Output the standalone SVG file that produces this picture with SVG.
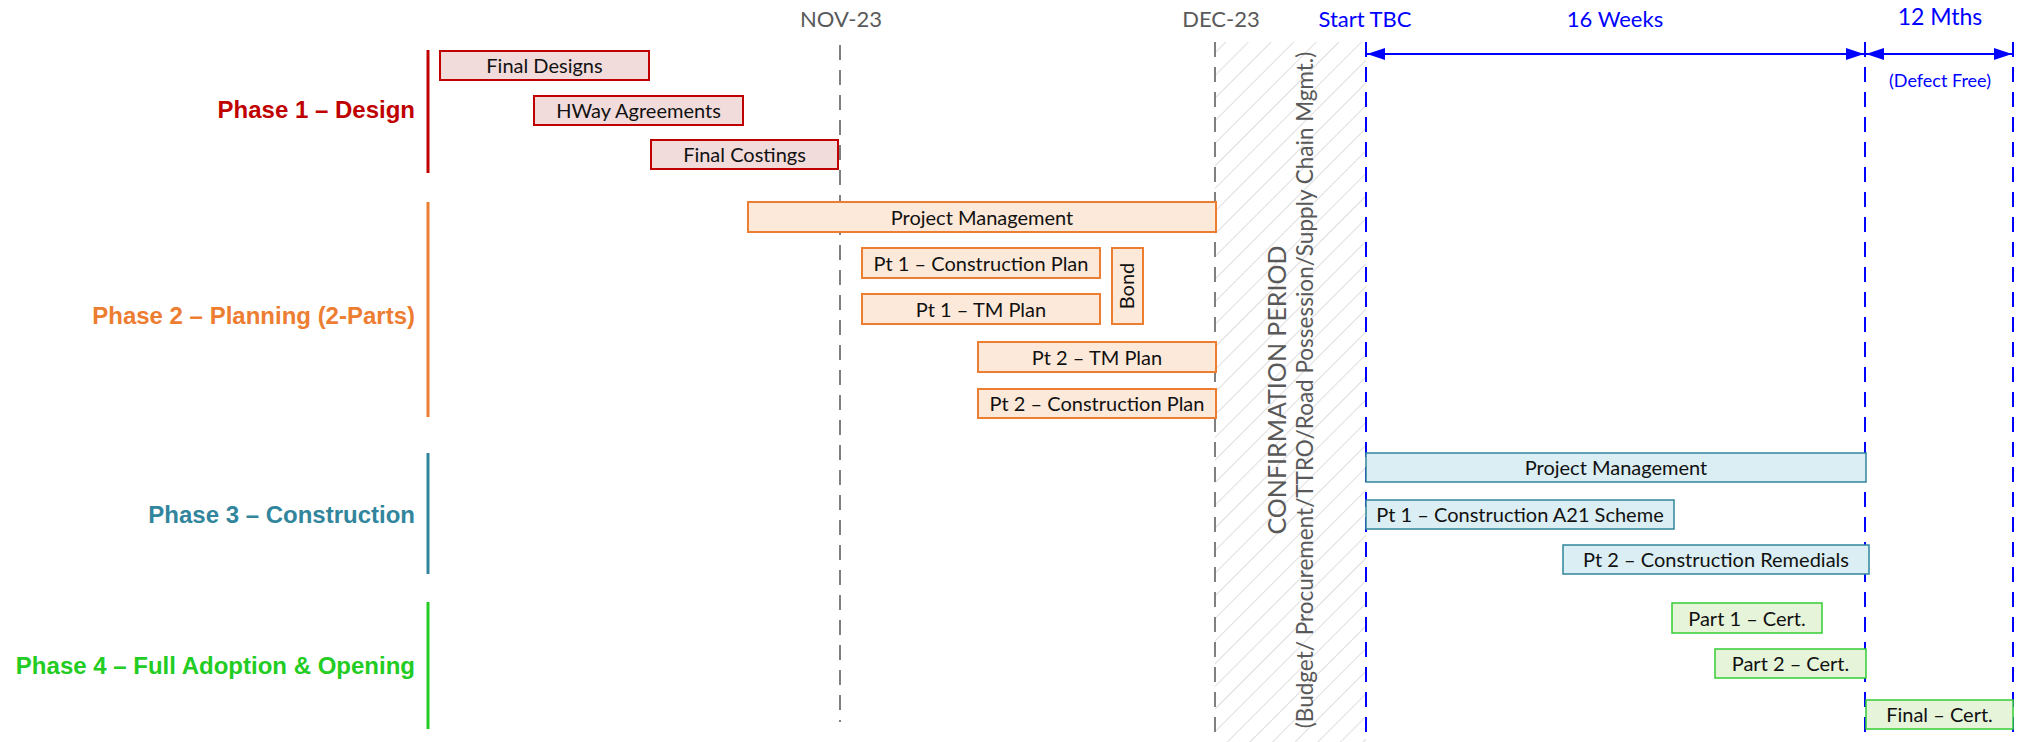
<svg xmlns="http://www.w3.org/2000/svg" width="2022" height="742" viewBox="0 0 2022 742">
<style>
.bt{font-family:Lato,"Open Sans","Liberation Sans",sans-serif;font-size:20px;fill:#111;text-anchor:middle}
.ph{font-family:"Liberation Sans",Arial,sans-serif;font-weight:bold;font-size:24px;text-anchor:end}
.tl{font-family:Lato,"Open Sans","Liberation Sans",sans-serif;font-size:22px;text-anchor:middle}
.r rect{fill:#F2DCDB;stroke:#C00000;stroke-width:2}
.o rect{fill:#FDE9D9;stroke:#ED7D31;stroke-width:2}
.t rect{fill:#DAEEF3;stroke:#31859C;stroke-width:1.5}
.g rect{fill:#E6F5DA;stroke:#33CC33;stroke-width:1.5}
.gd{stroke:#7F7F7F;stroke-width:2;stroke-dasharray:15 10;fill:none}
.bd{stroke:#0000FF;stroke-width:2;stroke-dasharray:15 10;fill:none}
</style>
<defs>
<pattern id="hatch" width="16" height="16" patternUnits="userSpaceOnUse" patternTransform="rotate(45)">
<line x1="0" y1="0" x2="0" y2="16" stroke="#C8C8C8" stroke-width="1.2"/>
</pattern>
<marker id="ah" markerWidth="18" markerHeight="12" refX="18" refY="6" orient="auto-start-reverse" markerUnits="userSpaceOnUse">
<path d="M0,0 L18,6 L0,12 z" fill="#0000FF"/>
</marker>
</defs>
<rect width="2022" height="742" fill="#FFFFFF"/>

<g id="timeline">
<rect x="1215" y="42" width="151" height="700" fill="url(#hatch)"/>
<text class="tl" x="841" y="27" fill="#595959">NOV-23</text>
<text class="tl" x="1221" y="27" fill="#595959">DEC-23</text>
<text class="tl" x="1365" y="27" fill="#0000FF">Start TBC</text>
<text class="tl" x="1615" y="27" fill="#0000FF">16 Weeks</text>
<text class="tl" x="1940" y="25" fill="#0000FF" style="font-size:23px">12 Mths</text>
<text class="tl" x="1940" y="87" fill="#0000FF" style="font-size:18px">(Defect Free)</text>
<g font-family="Lato,'Open Sans','Liberation Sans',sans-serif" fill="#595959" text-anchor="middle">
<text transform="translate(1286,390) rotate(-90)" font-size="25">CONFIRMATION PERIOD</text>
<text transform="translate(1313,390) rotate(-90)" font-size="22.5">(Budget/ Procurement/TTRO/Road Possession/Supply Chain Mgmt.)</text>
</g>
</g>

<g id="connectors">
<line class="gd" x1="840" y1="45" x2="840" y2="722"/>
<line class="gd" x1="1215" y1="42" x2="1215" y2="742"/>
<line class="bd" x1="1366" y1="42" x2="1366" y2="742"/>
<line class="bd" x1="1865" y1="42" x2="1865" y2="742"/>
<line class="bd" x1="2013" y1="42" x2="2013" y2="742"/>
<line x1="1367" y1="54" x2="1864" y2="54" stroke="#0000FF" stroke-width="2" marker-start="url(#ah)" marker-end="url(#ah)"/>
<line x1="1866" y1="54" x2="2012" y2="54" stroke="#0000FF" stroke-width="2" marker-start="url(#ah)" marker-end="url(#ah)"/>
</g>

<g id="phase1">
<line x1="428" y1="50" x2="428" y2="173" stroke="#C00000" stroke-width="3"/>
<text class="ph" x="415" y="118" fill="#C00000">Phase 1 – Design</text>
</g>
<g id="phase2">
<line x1="428" y1="202" x2="428" y2="417" stroke="#ED7D31" stroke-width="3"/>
<text class="ph" x="415" y="324" fill="#ED7D31">Phase 2 – Planning (2-Parts)</text>
</g>
<g id="phase3">
<line x1="428" y1="453" x2="428" y2="574" stroke="#31859C" stroke-width="3"/>
<text class="ph" x="415" y="523" fill="#31859C">Phase 3 – Construction</text>
</g>
<g id="phase4">
<line x1="428" y1="602" x2="428" y2="729" stroke="#22CC22" stroke-width="3"/>
<text class="ph" x="415" y="674" fill="#22CC22">Phase 4 – Full Adoption &amp; Opening</text>
</g>

<g id="final-designs" class="r"><rect x="440" y="51" width="209" height="29"/><text class="bt" x="544.5" y="72.5">Final Designs</text></g>
<g id="hway-agreements" class="r"><rect x="534" y="96" width="209" height="29"/><text class="bt" x="638.5" y="117.5">HWay Agreements</text></g>
<g id="final-costings" class="r"><rect x="651" y="140" width="187" height="29"/><text class="bt" x="744.5" y="161.5">Final Costings</text></g>

<g id="p2-project-management" class="o"><rect x="748" y="202" width="468" height="30"/><text class="bt" x="982" y="224.5">Project Management</text></g>
<g id="pt1-construction-plan" class="o"><rect x="862" y="248" width="238" height="30"/><text class="bt" x="981" y="270.5">Pt 1 – Construction Plan</text></g>
<g id="pt1-tm-plan" class="o"><rect x="862" y="294" width="238" height="30"/><text class="bt" x="981" y="316.5">Pt 1 – TM Plan</text></g>
<g id="bond" class="o"><rect x="1112" y="248" width="31" height="76"/><text class="bt" transform="translate(1134,286) rotate(-90)">Bond</text></g>
<g id="pt2-tm-plan" class="o"><rect x="978" y="342" width="238" height="30"/><text class="bt" x="1097" y="364.5">Pt 2 – TM Plan</text></g>
<g id="pt2-construction-plan" class="o"><rect x="978" y="389" width="238" height="29"/><text class="bt" x="1097" y="410.5">Pt 2 – Construction Plan</text></g>

<g id="p3-project-management" class="t"><rect x="1366" y="453" width="500" height="29"/><text class="bt" x="1616" y="474.5">Project Management</text></g>
<g id="pt1-construction-a21" class="t"><rect x="1366" y="500" width="308" height="29"/><text class="bt" x="1520" y="521.5">Pt 1 – Construction A21 Scheme</text></g>
<g id="pt2-construction-remedials" class="t"><rect x="1563" y="545" width="306" height="29"/><text class="bt" x="1716" y="566.5">Pt 2 – Construction Remedials</text></g>

<g id="part1-cert" class="g"><rect x="1672" y="603" width="150" height="30"/><text class="bt" x="1747" y="625.5">Part 1 – Cert.</text></g>
<g id="part2-cert" class="g"><rect x="1715" y="649" width="151" height="29"/><text class="bt" x="1790.5" y="670.5">Part 2 – Cert.</text></g>
<g id="final-cert" class="g"><rect x="1866" y="700" width="147" height="29"/><text class="bt" x="1939.5" y="721.5">Final – Cert.</text></g>
</svg>
